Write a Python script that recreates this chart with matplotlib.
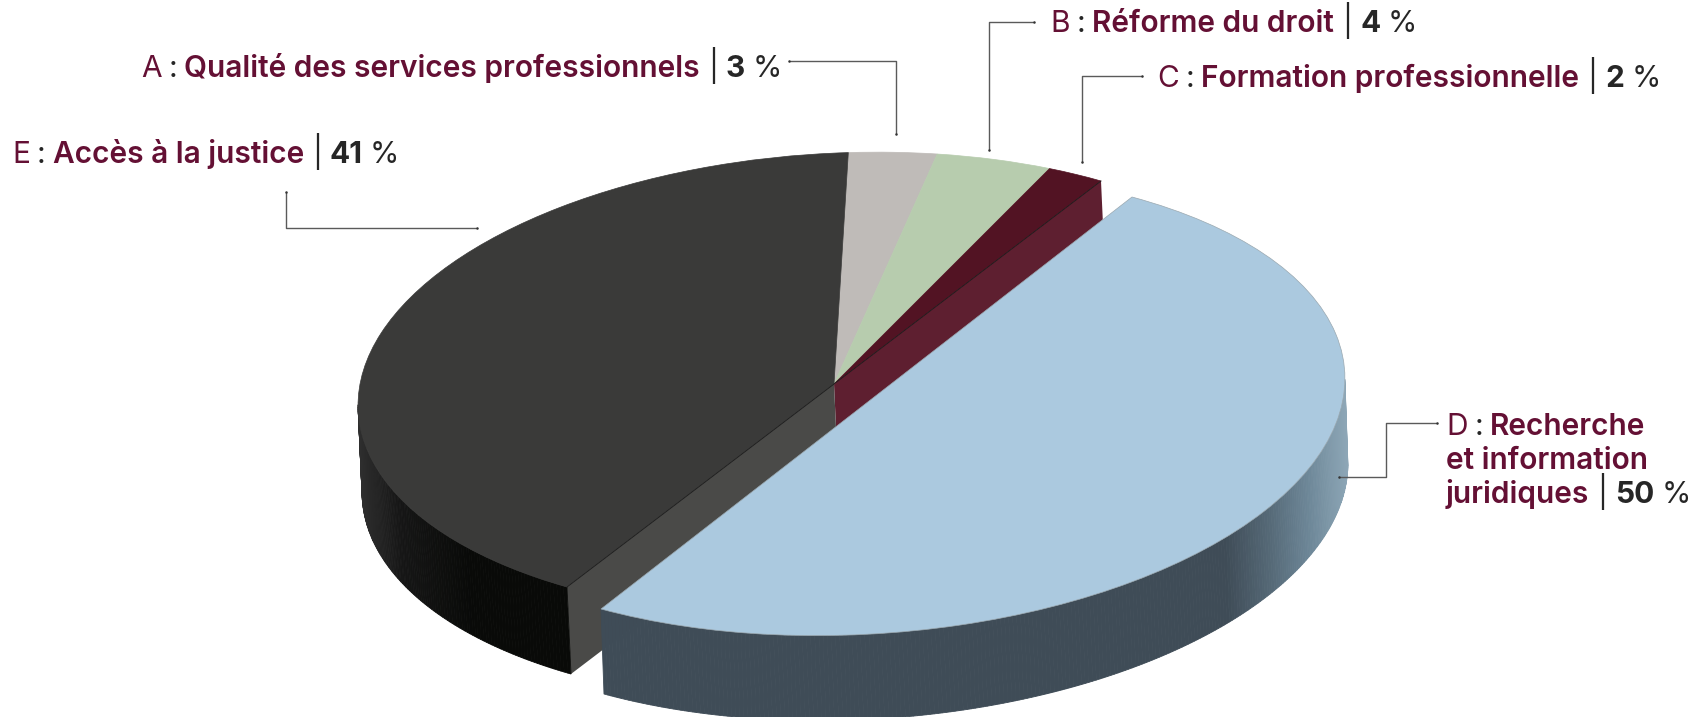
# -*- coding: utf-8 -*-

import numpy as np
import matplotlib
matplotlib.use('Agg')
import matplotlib.pyplot as plt
from matplotlib.colors import to_rgb
from matplotlib.transforms import Affine2D

plt.rcParams['font.family'] = ['Inter', 'DejaVu Sans']

# Data
letters = ['A', 'B', 'C', 'D', 'E']
names = [['Qualité des services professionnels'],
         ['Réforme du droit'],
         ['Formation professionnelle'],
         ['Recherche', 'et information', 'juridiques'],
         ['Accès à la justice']]
values = [3, 4, 2, 50, 41]

# Styles
top_colors = ['#bfbbb8', '#b7ccae', '#521323', '#abc9df', '#3a3a39']
red = '#641034'
dark = '#262626'
line_color = '#5a5a5a'

# Label positions, pixels (left of the line, baseline)
label_pos = {'A': (141, 77), 'B': (1050, 32), 'C': (1157, 87),
             'D': (1446, 435), 'E': (12, 163)}
line_gap = 34
font_size = 21.5

# Callout lines, pixels
callouts = [
    ([789, 896, 896], [61, 61, 134]),
    ([1034, 989, 989], [22, 22, 150]),
    ([1142, 1082.5, 1082.5], [76, 76, 162]),
    ([1437, 1386, 1386, 1339], [423, 423, 477, 477]),
    ([286, 286, 477], [192, 228, 228]),
]

# Projection of the unit circle on the page: origin and two axes
apex = np.array([834.0, 384.0])
v1 = np.array([267.0, -203.0])
v2 = np.array([-394.0, -112.0])
d_apex = np.array([866.5, 403.0])
d_v1 = np.array([265.5, -206.0])
d_v2 = np.array([-398.0, -108.0])
depth = np.array([4.0, 87.0])
d_depth = np.array([3.0, 85.0])


def project(theta, o, a, b):
    t = np.radians(theta)
    return o[0] + np.cos(t) * a[0] + np.sin(t) * b[0], o[1] + np.cos(t) * a[1] + np.sin(t) * b[1]


def shade(x, xs, colors):
    rgb = np.array([to_rgb(c) for c in colors])
    return [np.interp(x, xs, rgb[:, i]) for i in range(3)]


def draw_wall(thetas, o, a, b, drop, xs, colors, zorder):
    # outer wall as thin strips so the shading can change along x
    x, y = project(thetas, o, a, b)
    for i in range(len(thetas) - 1):
        c = shade((x[i] + x[i + 1]) / 2, xs, colors)
        ax.fill([x[i], x[i + 1], x[i + 1] + drop[0], x[i] + drop[0]],
                [y[i], y[i + 1], y[i + 1] + drop[1], y[i] + drop[1]],
                color=c, lw=0.6, zorder=zorder)


fig = plt.figure(figsize=(16.98, 7.17), dpi=100)
ax = fig.add_axes([0, 0, 1, 1])

# Slices on a unit circle, clockwise from the start of A
start = 360 * sum(values[:3]) / sum(values)
wedges, _ = ax.pie(values, colors=top_colors, startangle=start, counterclock=False,
                   radius=1, wedgeprops={'linewidth': 0})
ax.set_aspect('auto')
ax.set_xlim(0, 1698)
ax.set_ylim(717, 0)
ax.axis('off')

base = Affine2D.from_values(v1[0], v1[1], v2[0], v2[1], apex[0], apex[1]) + ax.transData
d_base = Affine2D.from_values(d_v1[0], d_v1[1], d_v2[0], d_v2[1], d_apex[0], d_apex[1]) + ax.transData
for i, w in enumerate(wedges):
    w.set_transform(d_base if letters[i] == 'D' else base)
    w.set_zorder(6 if letters[i] == 'D' else 3)
    w.set_edgecolor('#9aa8b0' if letters[i] == 'D' else top_colors[i])
    w.set_linewidth(0.5)

# Flat faces on the cut through the pie
cx, cy = project(0, apex, v1, v2)
ex, ey = project(180, apex, v1, v2)
ax.fill([apex[0], cx, cx + depth[0], apex[0] + depth[0]],
        [apex[1], cy, cy + depth[1], apex[1] + depth[1]], color='#5e1f30', lw=0, zorder=2)
ax.fill([apex[0], ex, ex + depth[0], apex[0] + depth[0]],
        [apex[1], ey, ey + depth[1], apex[1] + depth[1]], color='#4a4a48', lw=0, zorder=2)
ax.plot([cx, ex], [cy, ey], color='#1c1c1c', lw=0.6, zorder=4)

# Outer walls
angles = np.linspace(0, 360, 721)
px, _ = project(angles, apex, v1, v2)
e_mask = (angles > 90) & (angles < 180)
e_start = angles[e_mask][np.argmin(px[e_mask])]
e_angles = angles[(angles >= e_start) & (angles <= 180)]
draw_wall(e_angles, apex, v1, v2, depth, [360, 400, 470], ['#2e2e2e', '#161616', '#090a08'], 2)

px, _ = project(angles, d_apex, d_v1, d_v2)
d_mask = (angles >= 180) & (angles <= 359)
d_end = angles[d_mask][np.argmax(px[d_mask])]
d_angles = angles[(angles >= 180) & (angles <= d_end)]
draw_wall(d_angles, d_apex, d_v1, d_v2, d_depth, [1225, 1270, 1310, 1345],
          ['#3f4c57', '#566a78', '#6f899a', '#8da6b6'], 5)

# Callout lines, with a small dot at each free end
for xs, ys in callouts:
    ax.plot(xs, ys, color=line_color, lw=1, zorder=7, solid_capstyle='butt')
    ax.plot([xs[0], xs[-1]], [ys[0], ys[-1]], 'o', color='#333333', ms=1.8, mew=0, zorder=7)

# Labels
fig.canvas.draw()
renderer = fig.canvas.get_renderer()
inv = ax.transData.inverted()


def draw_label(i):
    x0, y0 = label_pos[letters[i]]
    lines = names[i]
    for k, line in enumerate(lines):
        runs = []
        if k == 0:
            runs += [(letters[i], 'normal', red, 7), (':', 'normal', dark, 7)]
        runs.append((line, 'semibold', red, 8))
        if k == len(lines) - 1:
            runs += [('|', 'normal', dark, 8), (str(values[i]), 'bold', dark, 7), ('%', 'normal', dark, 0)]
        x = ax.transData.transform((x0, y0 + k * line_gap))[0]
        for txt, weight, color, gap in runs:
            xd = inv.transform((x, 0))[0]
            t = ax.text(xd, y0 + k * line_gap, txt, fontsize=font_size, fontweight=weight,
                        color=color, ha='left', va='baseline', zorder=10)
            x = t.get_window_extent(renderer).x1 + gap


for i in range(len(letters)):
    draw_label(i)

fig.savefig('out.png', dpi=100)
